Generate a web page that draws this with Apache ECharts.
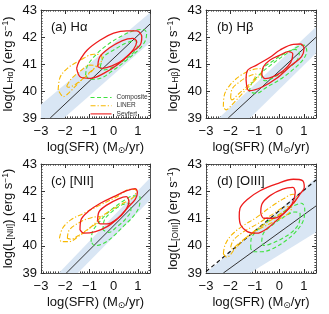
<!DOCTYPE html>
<html><head><meta charset="utf-8">
<script src="https://cdn.jsdelivr.net/npm/echarts@6/dist/echarts.min.js"></script>
<style>html,body{margin:0;padding:0;background:#fff}#c{width:329px;height:314px}</style>
</head><body><div id="c"></div>
<script>
// ---------- data ----------
const panelTitles = ['(a) H\u03b1', '(b) H\u03b2', '(c) [NII]', '(d) [OIII]'];
const lineSubs = ['H\u03b1', 'H\u03b2', '[NII]', '[OIII]'];
const xTickVals = [-3, -2, -1, 0, 1];
const yTickVals = [39, 40, 41, 42, 43];
const classNames = ['Composite', 'LINER', 'Seyfert'];

// panel (a)
const aSeyOut = [[-1.53,40.84],[-1.43,41.09],[-1.09,41.52],[-0.55,41.89],[0.0,42.14],[0.54,42.23],[0.95,42.23],[1.16,42.01],[1.09,41.70],[0.68,41.39],[0.14,40.96],[-0.41,40.65],[-0.95,40.47],[-1.36,40.51]];
const aSeyIn = [[-0.655,40.90],[-0.57,41.27],[-0.20,41.58],[0.34,41.86],[0.79,41.95],[0.95,41.83],[0.82,41.54],[0.41,41.17],[-0.07,40.93],[-0.48,40.84]];
const aComOut = [[-1.16,40.59],[-1.07,40.96],[-0.68,41.39],[-0.27,41.70],[0.27,42.01],[0.82,42.23],[1.23,42.28],[1.36,42.14],[1.29,41.83],[1.02,41.52],[0.54,41.15],[0.0,40.78],[-0.55,40.47],[-0.98,40.43]];
const aComIn = [[-0.55,40.90],[-0.41,41.27],[0.0,41.52],[0.54,41.79],[0.89,41.86],[0.98,41.67],[0.71,41.33],[0.27,41.05],[-0.14,40.84],[-0.48,40.78]];
const aLinOut = [[-2.29,40.04],[-2.21,40.51],[-1.91,40.84],[-1.36,41.15],[-0.82,41.36],[-0.52,41.33],[-0.48,41.17],[-0.68,40.93],[-1.07,40.63],[-1.47,40.28],[-1.84,39.94],[-2.07,39.79]];
const aLinIn = [[-1.94,40.18],[-1.77,40.43],[-1.36,40.75],[-0.98,40.96],[-0.75,40.93],[-0.89,40.75],[-1.30,40.43],[-1.66,40.20],[-1.88,40.14]];
const aLine = [[-2.62,39],[1.5,42.48]];
const aBand = [[-3,39.5],[1.5,42.9],[1.5,41.8],[-2.05,39],[-3,39]];

// panel (b)
const bSeyOut = [[-1.36,40.41],[-1.31,40.75],[-0.93,40.96],[-0.38,41.25],[0.03,41.52],[0.57,41.73],[0.87,41.74],[1.01,41.58],[0.91,41.27],[0.50,40.96],[-0.11,40.47],[-0.72,40.14],[-1.23,40.01]];
const bSeyIn = [[-0.72,40.59],[-0.65,40.90],[-0.38,41.15],[0.03,41.33],[0.37,41.46],[0.55,41.37],[0.46,41.05],[0.16,40.75],[-0.25,40.53],[-0.59,40.46]];
const bComOut = [[-1.23,39.97],[-1.13,40.28],[-0.79,40.63],[-0.38,40.94],[0.16,41.30],[0.71,41.62],[1.01,41.70],[1.12,41.49],[0.98,41.17],[0.57,40.80],[0.03,40.43],[-0.52,40.14],[-0.95,39.91]];
const bComIn = [[-0.72,40.47],[-0.65,40.84],[-0.25,41.12],[0.23,41.40],[0.64,41.54],[0.82,41.42],[0.71,41.12],[0.30,40.81],[-0.18,40.53],[-0.59,40.38]];
const bLinOut = [[-2.29,39.42],[-2.25,39.85],[-2.02,40.22],[-1.61,40.56],[-1.13,40.78],[-0.79,40.83],[-0.72,40.70],[-0.93,40.46],[-1.27,40.14],[-1.61,39.81],[-1.95,39.48],[-2.18,39.30]];
const bLinIn = [[-1.99,39.73],[-1.94,40.06],[-1.61,40.35],[-1.23,40.56],[-0.95,40.63],[-1.04,40.43],[-1.36,40.14],[-1.72,39.85],[-1.94,39.67]];
const bLine = [[-2.09,39],[1.5,41.99]];
const bBand = [[-2.47,39],[1.5,42.37],[1.5,41.4],[-1.2,39]];

// panel (c)
const cSeyOut = [[-1.39,40.58],[-1.34,40.97],[-1.02,41.28],[-0.55,41.56],[0.0,41.80],[0.54,42.02],[0.89,42.10],[0.98,41.95],[0.89,41.70],[0.61,41.43],[0.20,41.03],[-0.27,40.70],[-0.75,40.52],[-1.23,40.46]];
const cSeyIn = [[-0.66,40.92],[-0.60,41.25],[-0.27,41.50],[0.20,41.72],[0.52,41.80],[0.63,41.62],[0.48,41.29],[0.14,40.98],[-0.27,40.80],[-0.55,40.80]];
const cComOut = [[-0.93,40.15],[-0.87,40.52],[-0.55,40.92],[-0.14,41.29],[0.41,41.65],[0.82,41.83],[1.09,41.78],[1.06,41.46],[0.82,41.09],[0.41,40.72],[0.0,40.36],[-0.41,40.09],[-0.78,40.0]];
const cComIn = [[-0.44,40.58],[-0.38,40.95],[-0.07,41.25],[0.34,41.50],[0.65,41.56],[0.71,41.31],[0.48,40.97],[0.14,40.70],[-0.20,40.49]];
const cLinOut = [[-2.24,40.27],[-2.11,40.64],[-1.77,40.95],[-1.23,41.19],[-0.55,41.50],[0.14,41.80],[0.68,42.07],[0.93,42.05],[0.85,41.80],[0.27,41.50],[-0.41,41.13],[-0.95,40.68],[-1.43,40.36],[-1.84,40.15],[-2.15,40.15]];
const cLinIn = [[-1.91,40.27],[-1.83,40.58],[-1.36,40.88],[-0.89,41.04],[-0.55,41.07],[-0.66,40.87],[-1.02,40.63],[-1.43,40.39],[-1.77,40.24]];
const cLine = [[-1.95,39],[1.5,42.07]];
const cBand = [[-2.26,39],[1.5,42.49],[1.5,41.68],[-1.48,39]];

// panel (d)
const dSeyOut = [[-1.64,41.07],[-1.61,41.37],[-1.31,41.70],[-0.79,42.02],[-0.11,42.27],[0.57,42.44],[0.95,42.39],[1.02,42.14],[0.85,41.90],[0.57,41.56],[0.05,41.07],[-0.49,40.64],[-0.93,40.46],[-1.31,40.52],[-1.58,40.76]];
const dSeyIn = [[-0.76,41.19],[-0.71,41.53],[-0.38,41.84],[0.14,42.08],[0.55,42.14],[0.65,41.95],[0.52,41.53],[0.19,41.19],[-0.22,41.01],[-0.63,41.01]];
const dComOut = [[-1.17,39.90],[-1.16,40.21],[-0.93,40.55],[-0.52,40.86],[0.03,41.17],[0.57,41.46],[0.91,41.56],[1.04,41.34],[0.98,40.92],[0.71,40.55],[0.30,40.21],[-0.25,39.90],[-0.72,39.78],[-1.06,39.78]];
const dComIn = [[-0.72,40.15],[-0.65,40.46],[-0.31,40.74],[0.16,41.04],[0.64,41.24],[0.85,41.17],[0.79,40.80],[0.50,40.49],[0.10,40.26],[-0.38,40.06],[-0.65,40.01]];
const dLinOut = [[-2.29,39.70],[-2.22,40.03],[-1.99,40.36],[-1.54,40.70],[-0.93,41.04],[-0.38,41.41],[0.16,41.72],[0.57,41.89],[0.71,41.78],[0.57,41.53],[0.16,41.24],[-0.38,40.92],[-0.93,40.60],[-1.41,40.26],[-1.81,39.89],[-2.15,39.58]];
const dLinIn = [[-1.99,39.94],[-1.88,40.21],[-1.45,40.52],[-0.90,40.80],[-0.25,41.17],[0.30,41.43],[0.52,41.41],[0.38,41.19],[-0.16,40.91],[-0.79,40.63],[-1.31,40.33],[-1.72,40.04],[-1.94,39.89]];
const dLine = [[-2.29,39],[1.5,41.46]];
const dDashLine = [[-3,39.05],[1.5,42.41]];
const dBand = [[-3,39.0],[1.5,42.49],[1.5,40.5],[-1.2,39]];

// ---------- chart ----------
const FONT = 'Liberation Sans';
const COL = {Composite:'#3fe23f', LINER:'#f7b800', Seyfert:'#ee1c1c'};
const DASH = {Composite:[4,2.5], LINER:[5,2,1.2,2], Seyfert:'solid'};
const WID = {Composite:1.1, LINER:1.1, Seyfert:1.3};

const panels = [
  {sey:[aSeyOut,aSeyIn], com:[aComOut,aComIn], lin:[aLinOut,aLinIn], line:aLine, band:aBand},
  {sey:[bSeyOut,bSeyIn], com:[bComOut,bComIn], lin:[bLinOut,bLinIn], line:bLine, band:bBand},
  {sey:[cSeyOut,cSeyIn], com:[cComOut,cComIn], lin:[cLinOut,cLinIn], line:cLine, band:cBand},
  {sey:[dSeyOut,dSeyIn], com:[dComOut,dComIn], lin:[dLinOut,dLinIn], line:dLine, band:dBand, dash:dDashLine}
];
const gridPos = [
  {left:40, top:10, width:110, height:108},
  {left:206, top:10, width:110, height:108},
  {left:40, top:164, width:110, height:109},
  {left:206, top:164, width:110, height:109}
];

const frameLine = {show:true, onZero:false, lineStyle:{color:'#555', width:1}};
const tick = {show:true, inside:true, length:4, lineStyle:{color:'#333', width:1}};
const minor = {show:true, splitNumber:10, length:1.6, lineStyle:{color:'#444', width:1}};

const xAxes = [], yAxes = [], series = [], titles = [];
const close = a => a.concat([a[0]]);

panels.forEach((p, i) => {
  xAxes.push({type:'value', gridIndex:i, min:xTickVals[0], max:1.5, interval:1, position:'bottom',
    axisLine:frameLine, axisTick:tick, minorTick:minor, splitLine:{show:false},
    axisLabel:{show:true, fontSize:13, fontFamily:FONT, color:'#111', margin:7,
      formatter: v => (xTickVals.indexOf(v) >= 0 ? String(v).replace('-', '\u2212') : '')},
    name:'log(SFR) (M{sub|\u2299}/yr)', nameLocation:'middle', nameGap:22,
    nameTextStyle:{fontSize:13, fontFamily:FONT, color:'#111',
      rich:{sub:{fontSize:9, fontFamily:'DejaVu Sans', verticalAlign:'bottom', padding:[6,0,0,0]}}}});
  xAxes.push({type:'value', gridIndex:i, min:xTickVals[0], max:1.5, interval:1, position:'top',
    axisLine:frameLine, axisTick:tick, minorTick:minor, splitLine:{show:false}, axisLabel:{show:false}});
  yAxes.push({type:'value', gridIndex:i, min:yTickVals[0], max:yTickVals[yTickVals.length-1], interval:1, position:'left',
    axisLine:frameLine, axisTick:tick, minorTick:minor, splitLine:{show:false},
    axisLabel:{show:true, fontSize:13, fontFamily:FONT, color:'#111', margin:4},
    name:'log(L{sub|' + lineSubs[i] + '}) (erg s{sup|\u22121})', nameLocation:'middle', nameGap:26, nameRotate:90,
    nameTextStyle:{fontSize:13, fontFamily:FONT, color:'#111',
      rich:{sub:{fontSize:8.5, fontFamily:FONT, verticalAlign:'bottom', padding:[5,0,0,0]},
            sup:{fontSize:8.5, fontFamily:FONT, verticalAlign:'top', padding:[0,0,5,0]}}}});
  yAxes.push({type:'value', gridIndex:i, min:yTickVals[0], max:yTickVals[yTickVals.length-1], interval:1, position:'right',
    axisLine:frameLine, axisTick:tick, minorTick:minor, splitLine:{show:false}, axisLabel:{show:false}});

  const xi = i*2, yi = i*2;
  const bandPts = p.band;
  series.push({type:'custom', xAxisIndex:xi, yAxisIndex:yi, silent:true, z:1, clip:true,
    data:bandPts, encode:{x:0, y:1},
    renderItem:(params, api) => {
      if (params.dataIndex !== 0) return null;
      return {type:'polygon', shape:{points:bandPts.map(q => api.coord(q))}, style:{fill:'#d9e6f4'}};
    }});
  series.push({type:'line', xAxisIndex:xi, yAxisIndex:yi, data:p.line, symbol:'none', silent:true, z:3,
    lineStyle:{color:'#333', width:1}});
  if (p.dash) series.push({type:'line', xAxisIndex:xi, yAxisIndex:yi, data:p.dash, symbol:'none', silent:true, z:3,
    lineStyle:{color:'#111', width:1.2, type:[4,3]}});
  const groups = [['Composite', p.com], ['LINER', p.lin], ['Seyfert', p.sey]];
  groups.forEach(([nm, arrs]) => {
    arrs.forEach(arr => {
      series.push({type:'line', name:nm, xAxisIndex:xi, yAxisIndex:yi, data:close(arr), symbol:'none',
        smooth:0.35, silent:true, z:4, color:COL[nm], lineStyle:{color:COL[nm], width:WID[nm], type:DASH[nm]}, itemStyle:{color:COL[nm]}});
    });
  });
  const g = gridPos[i];
  titles.push({text:panelTitles[i], left:g.left + 6, top:g.top + 6,
    textStyle:{fontSize:13, fontWeight:'normal', fontFamily:FONT, color:'#111'}});
});

const chart = echarts.init(document.getElementById('c'), null, {renderer:'canvas'});
chart.setOption({
  animation:false,
  backgroundColor:'#fff',
  title:titles,
  grid:gridPos.map(g => Object.assign({containLabel:false}, g)),
  xAxis:xAxes, yAxis:yAxes, series:series,
  legend:{
    data:classNames.map(nm => ({name:nm, itemStyle:{opacity:0},
      lineStyle:{color:COL[nm], width:1.1, type:DASH[nm]}})),
    left:90, top:94, orient:'vertical', itemWidth:21, itemHeight:5, itemGap:1.2,
    textStyle:{fontSize:6.5, fontFamily:FONT, color:'#333', lineHeight:6}, padding:0, selectedMode:false}
});
</script></body></html>
